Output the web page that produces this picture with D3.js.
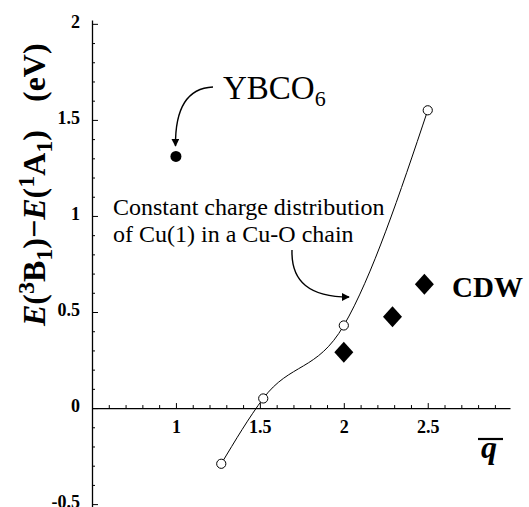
<!DOCTYPE html>
<html>
<head>
<meta charset="utf-8">
<script src="https://cdn.jsdelivr.net/npm/d3@7"></script>
<style>
  html, body { margin: 0; padding: 0; background: #fff; }
  svg { display: block; }
  text { font-family: "Liberation Serif", "Times New Roman", serif; fill: #000; }
</style>
</head>
<body>
<svg></svg>
<script>
// Cu-O chain, constant charge distribution (open circles joined by a curve)
const chainQ = [1.27, 1.52, 2.0, 2.5];
const chainE = [-0.29, 0.05, 0.43, 1.55];
// YBCO6 (filled dot)
const ybcoQ = [1.0];
const ybcoE = [1.31];
// CDW (filled diamonds)
const cdwQ = [2.0, 2.29, 2.48];
const cdwE = [0.29, 0.475, 0.645];
// ticks
const xTicks = [1, 1.5, 2, 2.5];
const yTicks = [-0.5, 0, 0.5, 1, 1.5, 2];

const width = 529, height = 507;
const svg = d3.select('svg').attr('width', width).attr('height', height);

const x = d3.scaleLinear().domain([0.5, 2.99]).range([92, 510]);
const y = d3.scaleLinear().domain([-0.515, 2.02]).range([507, 20]);

const minorX = d3.range(6, 30).map(d => d / 10).filter(d => !xTicks.includes(d));
const minorY = d3.range(-5, 21).map(d => d / 10).filter(d => !yTicks.includes(d));
const fmt = d => String(d); // plain "-0.5", "1", "1.5"

// y axis: ticks point inwards (right), labels on the left
const gy = svg.append('g').attr('transform', `translate(${x(0.5)},0)`);
gy.call(d3.axisLeft(y).tickValues(yTicks).tickSizeInner(-6).tickSizeOuter(0).tickPadding(12).tickFormat(fmt));
gy.append('g').call(d3.axisLeft(y).tickValues(minorY).tickSizeInner(-3).tickSizeOuter(0).tickFormat(''))
  .select('.domain').remove();

// x axis at E = 0, ticks upward
const gx = svg.append('g').attr('transform', `translate(0,${y(0)})`);
gx.call(d3.axisBottom(x).tickValues(xTicks).tickSizeInner(-5).tickSizeOuter(0).tickPadding(12).tickFormat(fmt));
gx.append('g').call(d3.axisBottom(x).tickValues(minorX).tickSizeInner(-3).tickSizeOuter(0).tickFormat(''))
  .select('.domain').remove();

svg.selectAll('.domain').attr('stroke', '#000').attr('stroke-width', 1.3);
svg.selectAll('.tick line').attr('stroke', '#000').attr('stroke-width', 1);
svg.selectAll('.tick text')
  .style('font-family', '"Liberation Serif", serif')
  .style('font-weight', 'bold')
  .style('font-size', '18px')
  .attr('fill', '#000');
gy.selectAll('.tick text').attr('dy', '0.2em');

// chain curve
const chain = chainQ.map((q, i) => [q, chainE[i]]);
svg.append('path')
  .attr('d', d3.line().x(d => x(d[0])).y(d => y(d[1])).curve(d3.curveMonotoneX)(chain))
  .attr('fill', 'none').attr('stroke', '#000').attr('stroke-width', 1);
svg.selectAll('circle.chain').data(chain).join('circle')
  .attr('class', 'chain')
  .attr('cx', d => x(d[0])).attr('cy', d => y(d[1])).attr('r', 4.6)
  .attr('fill', '#fff').attr('stroke', '#000').attr('stroke-width', 1);

// YBCO6 dot
svg.selectAll('circle.ybco').data(ybcoQ.map((q, i) => [q, ybcoE[i]])).join('circle')
  .attr('class', 'ybco')
  .attr('cx', d => x(d[0])).attr('cy', d => y(d[1])).attr('r', 5.5)
  .attr('fill', '#000');

// CDW diamonds
svg.selectAll('path.cdw').data(cdwQ.map((q, i) => [q, cdwE[i]])).join('path')
  .attr('class', 'cdw')
  .attr('transform', d => `translate(${x(d[0])},${y(d[1])})`)
  .attr('d', 'M0,-10.5L9.5,0L0,10.5L-9.5,0Z')
  .attr('fill', '#000');

// arrows
const defs = svg.append('defs');
defs.append('marker')
  .attr('id', 'head').attr('viewBox', '0 0 10 10')
  .attr('refX', 9).attr('refY', 5)
  .attr('markerWidth', 8).attr('markerHeight', 8)
  .attr('markerUnits', 'userSpaceOnUse')
  .attr('orient', 'auto')
  .append('path').attr('d', 'M0,0L10,5L0,10Z').attr('fill', '#000');

svg.append('path')
  .attr('d', 'M213,87 C190,88 175,105 175.5,146')
  .attr('fill', 'none').attr('stroke', '#000').attr('stroke-width', 1.4)
  .attr('marker-end', 'url(#head)');
svg.append('path')
  .attr('d', 'M292,250 C291,282 310,297 349,297')
  .attr('fill', 'none').attr('stroke', '#000').attr('stroke-width', 1.4)
  .attr('marker-end', 'url(#head)');

// annotations
const yb = svg.append('text').attr('x', 223).attr('y', 99).attr('font-size', 33);
yb.append('tspan').text('YBCO');
yb.append('tspan').attr('font-size', 22).attr('dy', 7).text('6');

const note = svg.append('text').attr('font-size', 24);
note.append('tspan').attr('x', 113).attr('y', 215).text('Constant charge distribution');
note.append('tspan').attr('x', 113).attr('y', 242).text('of Cu(1) in a Cu-O chain');

svg.append('text').attr('x', 452).attr('y', 297)
  .attr('font-size', 29).attr('font-weight', 'bold').text('CDW');

// x label: q with overline
svg.append('text').attr('x', 481).attr('y', 458)
  .attr('font-size', 32).attr('font-weight', 'bold').attr('font-style', 'italic').text('q');
svg.append('line').attr('x1', 478).attr('x2', 503).attr('y1', 439).attr('y2', 439)
  .attr('stroke', '#000').attr('stroke-width', 2.2);

// y label
const yl = svg.append('text')
  .attr('transform', 'translate(45,326) rotate(-90)')
  .attr('font-size', 32).attr('font-weight', 'bold');
yl.append('tspan').attr('font-style', 'italic').text('E');
yl.append('tspan').text('(');
yl.append('tspan').attr('font-size', 24).attr('dy', -11).text('3');
yl.append('tspan').attr('dy', 11).text('B');
yl.append('tspan').attr('font-size', 24).attr('dy', 7).text('1');
yl.append('tspan').attr('dy', -7).text(')\u2212');
yl.append('tspan').attr('font-style', 'italic').text('E');
yl.append('tspan').text('(');
yl.append('tspan').attr('font-size', 24).attr('dy', -11).text('1');
yl.append('tspan').attr('dy', 11).text('A');
yl.append('tspan').attr('font-size', 24).attr('dy', 7).text('1');
yl.append('tspan').attr('dy', -7).text(')');

svg.append('text')
  .attr('transform', 'translate(45,102) rotate(-90)')
  .attr('font-size', 32).attr('font-weight', 'bold').text('(eV)');
</script>
</body>
</html>
